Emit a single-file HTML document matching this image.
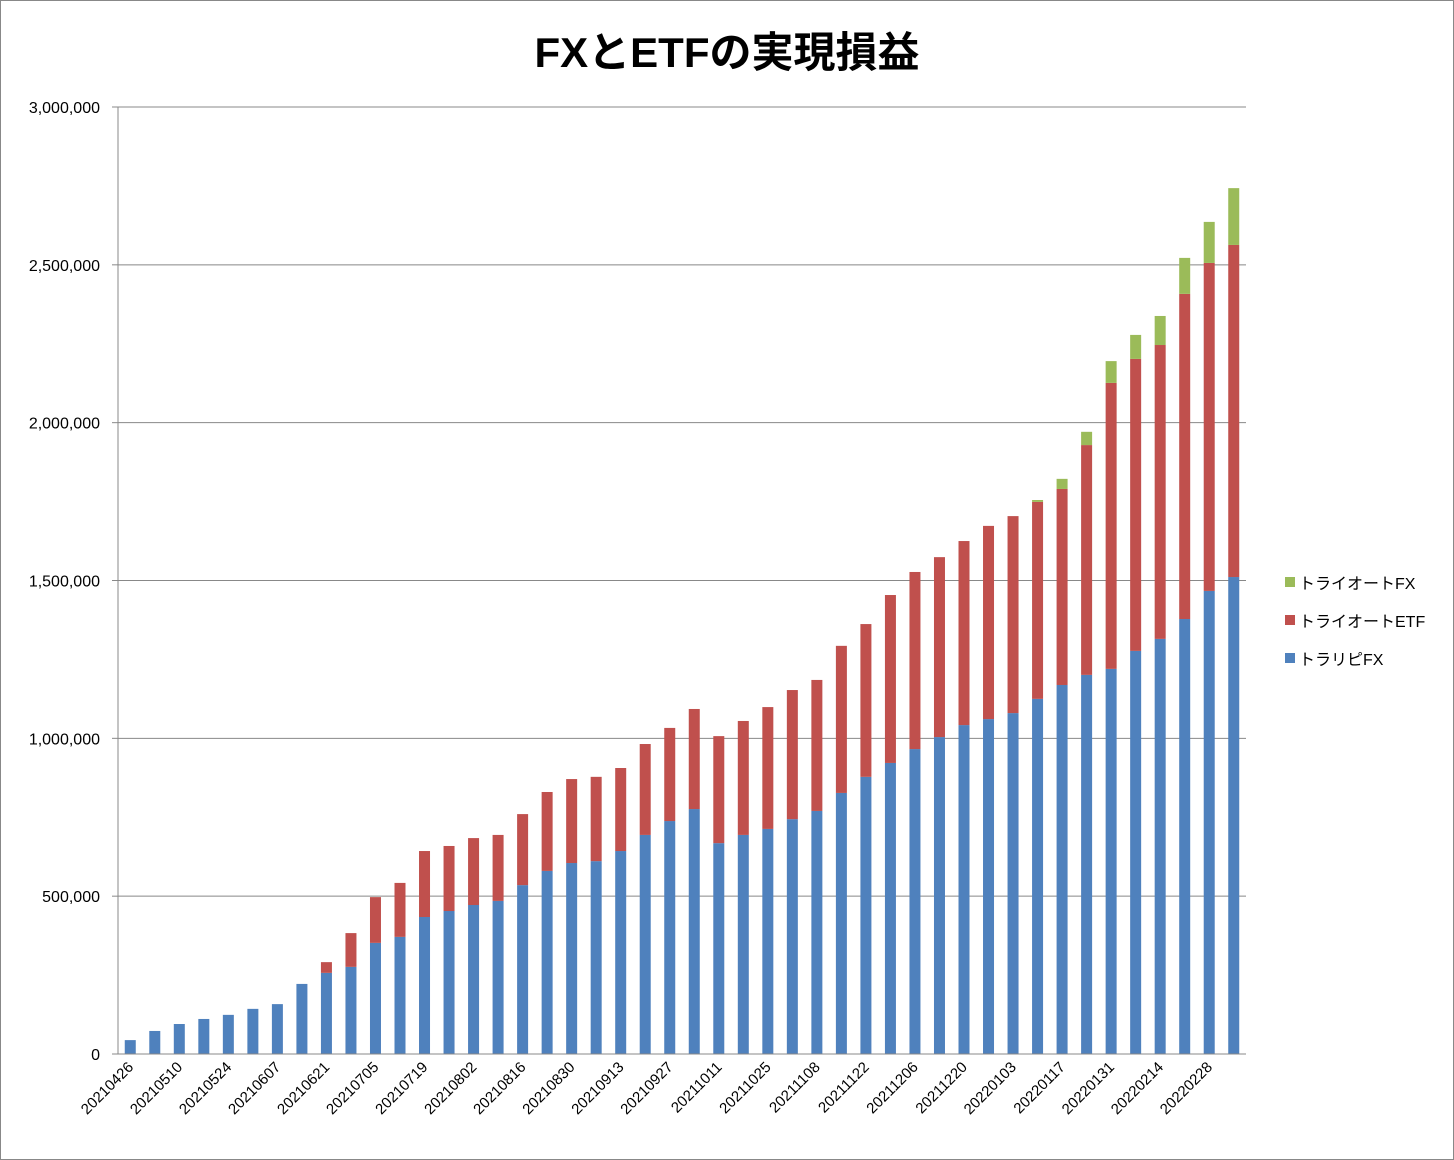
<!DOCTYPE html>
<html><head><meta charset="utf-8">
<style>
body{margin:0;background:#fff;}
svg{display:block;font-family:"Liberation Sans","Noto Sans CJK JP",sans-serif;}
</style></head>
<body>
<svg id="chart" width="1454" height="1160" xmlns="http://www.w3.org/2000/svg">
<rect x="0.5" y="0.5" width="1453" height="1159" fill="#fff" stroke="#888"/>
<text x="727" y="67" text-anchor="middle" font-size="42" font-weight="bold" fill="#000">FXとETFの実現損益</text>
<g id="grid"></g><g id="bars"></g><g id="axes"></g>
<g font-size="16" fill="#000">
<g><rect x="1285" y="577" width="10" height="10" fill="#9BBB59"/><text x="1299" y="589">トライオートFX</text></g>
<g><rect x="1285" y="615" width="10" height="10" fill="#C0504D"/><text x="1299" y="627">トライオートETF</text></g>
<g><rect x="1285" y="653" width="10" height="10" fill="#4F81BD"/><text x="1299" y="665">トラリピFX</text></g>
</g>
</svg>
<script>
const categories=["20210426","20210503","20210510","20210517","20210524","20210531","20210607","20210614","20210621","20210628","20210705","20210712","20210719","20210726","20210802","20210809","20210816","20210823","20210830","20210906","20210913","20210920","20210927","20211004","20211011","20211018","20211025","20211101","20211108","20211115","20211122","20211129","20211206","20211213","20211220","20211227","20220103","20220110","20220117","20220124","20220131","20220207","20220214","20220221","20220228","20220307"];
const trarepiFX=[44000,73000,95000,111000,124000,143000,158000,222000,257000,276000,352000,371000,434000,453000,472000,485000,535000,580000,605000,611000,643000,694000,738000,776000,668000,694000,713000,744000,770000,827000,878000,922000,966000,1004000,1042000,1061000,1080000,1125000,1169000,1201000,1220000,1277000,1315000,1378000,1467000,1511000];
const triautoETF=[0,0,0,0,0,0,0,0,34000,107000,145000,171000,209000,206000,212000,209000,225000,250000,266000,267000,263000,288000,295000,317000,339000,361000,386000,409000,415000,466000,484000,532000,561000,570000,583000,612000,624000,624000,621000,728000,906000,925000,931000,1030000,1039000,1052000];
const triautoFX=[0,0,0,0,0,0,0,0,0,0,0,0,0,0,0,0,0,0,0,0,0,0,0,0,0,0,0,0,0,0,0,0,0,0,0,0,0,6000,32000,42000,69000,76000,92000,114000,130000,180000];
const yTicks=[0,500000,1000000,1500000,2000000,2500000,3000000];
const yTickLabels=["0","500,000","1,000,000","1,500,000","2,000,000","2,500,000","3,000,000"];
const NS="http://www.w3.org/2000/svg";
const X0=118,X1=1246,Y0=1054,Y1=107,YMAX=3000000;
const y=v=>Y0-(v/YMAX)*(Y0-Y1);
const cw=(X1-X0)/categories.length;
const x=i=>X0+cw*(i+0.5);
const bw=11;
function mk(tag,attrs,parent){const e=document.createElementNS(NS,tag);for(const k in attrs)e.setAttribute(k,attrs[k]);parent.appendChild(e);return e;}
const grid=document.getElementById('grid'),bars=document.getElementById('bars'),axes=document.getElementById('axes');
yTicks.forEach((t,i)=>{
  const l=mk('line',{x1:X0,x2:X1,y1:y(t),y2:y(t),stroke:'#888','stroke-width':1},grid);
  
  
  const tk=mk('line',{x1:X0-6,x2:X0,y1:y(t),y2:y(t),stroke:'#888'},axes);
  
  
  const tx=mk('text',{x:100,y:y(t)+6,'text-anchor':'end','font-size':16,fill:'#000'},axes);
  tx.textContent=yTickLabels[i];
  
  
});
const ax=mk('line',{x1:X0,x2:X0,y1:Y1,y2:Y0,stroke:'#888'},axes);


const xa=mk('line',{x1:X0,x2:X1,y1:Y0,y2:Y0,stroke:'#888'},axes);


const series=[[trarepiFX,'#4F81BD','bar-trarepi-fx'],[triautoETF,'#C0504D','bar-triauto-etf'],[triautoFX,'#9BBB59','bar-triauto-fx']];
categories.forEach((c,i)=>{
  let base=0;
  series.forEach(([arr,col,nm])=>{
    const v=arr[i];
    if(v>0){
      const r=mk('rect',{x:x(i)-bw/2,y:y(base+v),width:bw,height:y(base)-y(base+v),fill:col},bars);
      
      
    }
    base+=v;
  });
  if(i%2===0){
    const tx=mk('text',{x:x(i)+4,y:Y0+14,'text-anchor':'end','font-size':15,fill:'#000',transform:`rotate(-45 ${x(i)+4} ${Y0+14})`},axes);
    tx.textContent=c;
    
    
  }
});
</script>
</body></html>
